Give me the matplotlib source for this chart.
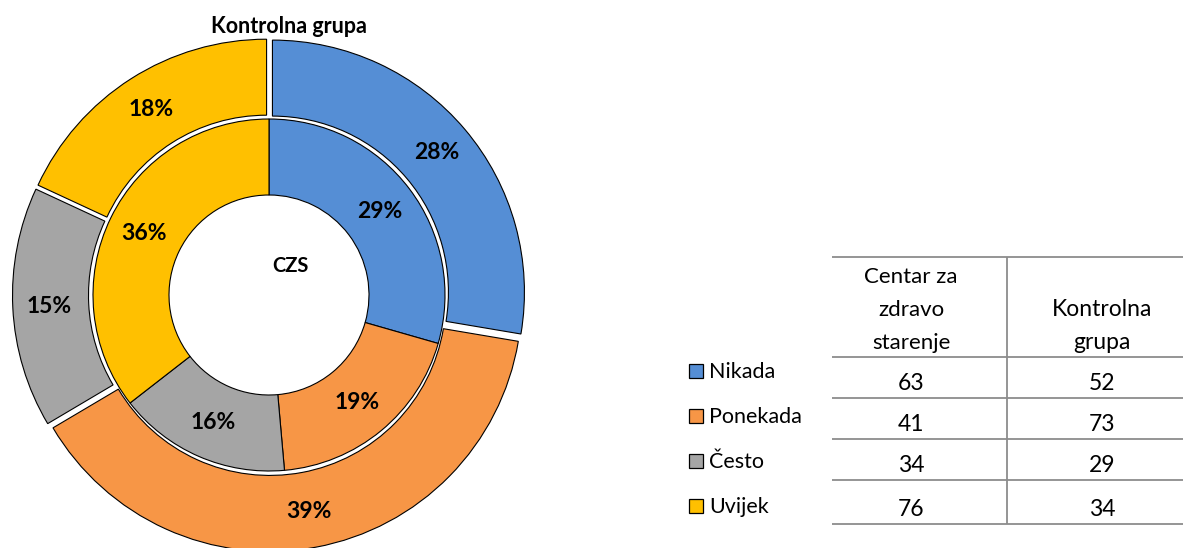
import numpy as np
import matplotlib.pyplot as plt

categories = ["Nikada", "Ponekada", "Često", "Uvijek"]
czs_values = [63, 41, 34, 76]
kontrolna_values = [52, 73, 29, 34]
colors = ["#558ED5", "#F79646", "#A5A5A5", "#FFC000"]
header_czs = ["Centar za", "zdravo", "starenje"]
header_kontrolna = ["Kontrolna", "grupa"]

W, H = 1183, 548
plt.rcParams["font.family"] = ["Lato", "DejaVu Sans"]


def Y(y):
    # pixel row from top -> data y
    return H - y


fig = plt.figure(figsize=(W / 100, H / 100), dpi=100)
ax = fig.add_axes([0, 0, 1, 1])

cx, cy = 269, Y(295)
R_out, r_mid, r_hole = 252, 176, 100
explode = 4.5

pct = lambda p: f"{p:.0f}%"
edge = dict(edgecolor="black", linewidth=0.8)

# outer ring - Kontrolna grupa (exploded)
_, _, outer_txt = ax.pie(kontrolna_values, colors=colors, radius=R_out, center=(cx, cy),
                         startangle=90, counterclock=False, explode=[explode] * 4,
                         autopct=pct, pctdistance=0.855,
                         wedgeprops=dict(width=R_out - r_mid, **edge))
# inner ring - CZS
_, _, inner_txt = ax.pie(czs_values, colors=colors, radius=r_mid, center=(cx, cy),
                         startangle=90, counterclock=False,
                         autopct=pct, pctdistance=0.79,
                         wedgeprops=dict(width=r_mid - r_hole, **edge))
for t in outer_txt + inner_txt:
    t.set_fontsize(16.5)
    t.set_fontweight("bold")

ax.text(289, Y(33), "Kontrolna grupa", ha="center", va="baseline", fontsize=15.5, fontweight="bold")
ax.text(290, Y(272), "CZS", ha="center", va="baseline", fontsize=14.5, fontweight="bold")

# data table
line_kw = dict(color="#8C8C8C", linewidth=1.3, solid_capstyle="butt")
x_left, x_right, x_div = 832, W, 1007
row_lines = [257, 357, 398, 439, 480, 524]
for yl in row_lines:
    ax.plot([x_left, x_right], [Y(yl), Y(yl)], **line_kw)
ax.plot([x_div, x_div], [Y(row_lines[0]), Y(row_lines[-1])], **line_kw)

col1, col2 = 911, 1102
for i, s in enumerate(header_czs):
    ax.text(col1, Y(283 + 33 * i), s, ha="center", va="baseline", fontsize=16)
for i, s in enumerate(header_kontrolna):
    ax.text(col2, Y(316 + 33 * i), s, ha="center", va="baseline", fontsize=16.5)

for i, (cat, a, b, c) in enumerate(zip(categories, czs_values, kontrolna_values, colors)):
    base = row_lines[i + 2] - 8
    ax.text(col1, Y(base), str(a), ha="center", va="baseline", fontsize=16.5)
    ax.text(col2, Y(base), str(b), ha="center", va="baseline", fontsize=16.5)
    lb = 378 + 45 * i
    ax.add_patch(plt.Rectangle((689, Y(lb)), 14, 14, facecolor=c, edgecolor="black", linewidth=0.9))
    ax.text(709, Y(lb), cat, ha="left", va="baseline", fontsize=15.5)

ax.set_xlim(0, W)
ax.set_ylim(0, H)
ax.set_aspect("equal")
ax.axis("off")
fig.savefig("out.png", dpi=100)
